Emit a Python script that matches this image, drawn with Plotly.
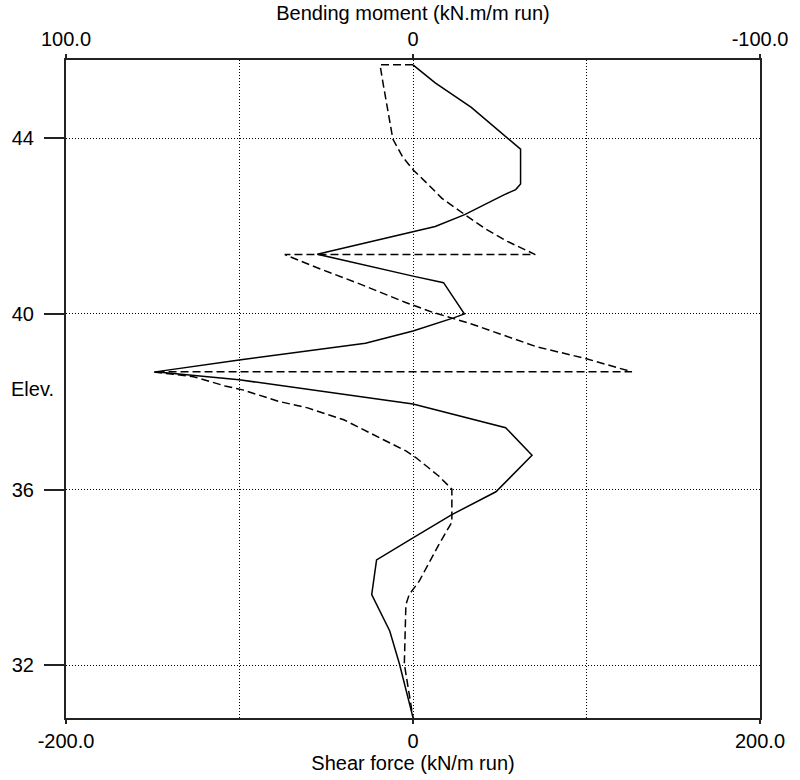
import plotly.graph_objects as go

# Bending moment (kN.m/m run) vs elevation -- solid line (top axis)
moment_elev = [45.67, 45.26, 44.70, 44.07, 43.75, 42.96, 42.83, 42.71, 42.26, 41.99,
               41.87, 41.36, 40.86, 40.71, 40.00, 39.91, 39.61, 39.33, 38.95, 38.68,
               38.50, 37.95, 37.41, 36.78, 35.95, 35.43, 34.90, 34.40, 33.61, 32.78,
               32.03, 30.81]
moment = [0, -6.4, -16.8, -26.2, -31.0, -31.0, -29.6, -26.2, -14.9, -6.4,
          0, 27.6, 0, -8.8, -14.8, -11.7, 0, 13.7, 50.1, 74.3,
          50.1, 0, -26.7, -34.3, -23.9, -11.2, 0, 10.5, 11.9, 6.7,
          3.9, 0]

# Shear force (kN/m run) vs elevation -- dashed line (bottom axis)
shear_elev = [45.67, 45.67, 45.26, 44.81, 43.98, 43.57, 43.27, 42.93, 42.63, 42.26,
              41.95, 41.65, 41.43, 41.35, 41.35, 41.05, 40.71, 40.26, 40.04, 39.77,
              39.25, 39.06, 38.98, 38.68, 38.68, 38.57, 38.36, 38.27, 38.01, 37.86,
              37.71, 37.59, 37.14, 36.88, 36.73, 36.31, 36.01, 35.26, 34.74, 33.91,
              33.61, 33.38, 32.03, 30.81]
shear = [0, -19.0, -17.3, -15.4, -11.6, -5.9, 0.3, 9.2, 16.7, 29.9,
         41.2, 54.4, 65.8, 70.5, -73.9, -55.2, -32.5, -4.2, 11.0, 33.7,
         71.4, 90.3, 99.9, 126.2, -149.7, -126.5, -108.4, -98.2, -77.6, -60.7,
         -49.3, -39.9, -17.3, -4.1, 1.6, 14.8, 22.4, 22.4, 14.8, 3.5,
         -2.2, -4.1, -5.0, 0]

elev_ticks = [32, 36, 40, 44]
shear_ticks = [-200, 0, 200]
shear_ticktext = ["-200.0", "0", "200.0"]
shear_grid = [-100, 0, 100]
moment_ticks = [100, 0, -100]
moment_ticktext = ["100.0", "0", "-100.0"]

FONT = "Liberation Sans, Arial, sans-serif"
AXC = "#222222"

fig = go.Figure()
fig.add_trace(go.Scatter(x=shear, y=shear_elev, mode="lines", xaxis="x", yaxis="y",
                         line=dict(color="black", width=1.5, dash="8px,4px"),
                         showlegend=False, hoverinfo="skip"))
fig.add_trace(go.Scatter(x=moment, y=moment_elev, mode="lines", xaxis="x2", yaxis="y",
                         line=dict(color="black", width=1.5),
                         showlegend=False, hoverinfo="skip"))

fig.update_layout(
    width=800, height=780,
    margin=dict(l=66, r=27, t=57, b=59),
    paper_bgcolor="white", plot_bgcolor="white",
    font=dict(family=FONT, size=20, color="black"),
    xaxis=dict(
        range=[-200, 200], tickvals=shear_ticks, ticktext=shear_ticktext,
        ticks="outside", ticklen=4, tickcolor=AXC, tickwidth=2,
        showline=True, linecolor=AXC, linewidth=2,
        showgrid=False, zeroline=False,
        minor=dict(tickvals=shear_grid, showgrid=True, gridcolor="black",
                   gridwidth=1, griddash="1px,2px", ticks=""),
        title=dict(text="Shear force (kN/m run)", standoff=2,
                   font=dict(size=20)),
        tickfont=dict(size=20),
    ),
    xaxis2=dict(
        range=[100, -100], overlaying="x", side="top",
        tickvals=moment_ticks, ticktext=moment_ticktext,
        ticks="outside", ticklen=4, tickcolor=AXC, tickwidth=2,
        showline=True, linecolor=AXC, linewidth=2,
        showgrid=False, zeroline=False,
        title=dict(text="Bending moment (kN.m/m run)", standoff=2,
                   font=dict(size=20)),
        tickfont=dict(size=20),
    ),
    yaxis=dict(
        range=[30.8, 45.78], tickvals=elev_ticks,
        ticks="outside", ticklen=20, tickcolor=AXC, tickwidth=2,
        showline=True, linecolor=AXC, linewidth=2, mirror=True,
        showgrid=True, gridcolor="black", gridwidth=1, griddash="1px,2px",
        zeroline=False, ticklabelstandoff=6,
        tickfont=dict(size=20),
    ),
    annotations=[dict(text="Elev.", xref="paper", yref="paper", x=-0.048, y=0.5,
                      xanchor="center", yanchor="middle", showarrow=False,
                      font=dict(size=20, family=FONT))],
)

fig.write_html("out.html")
